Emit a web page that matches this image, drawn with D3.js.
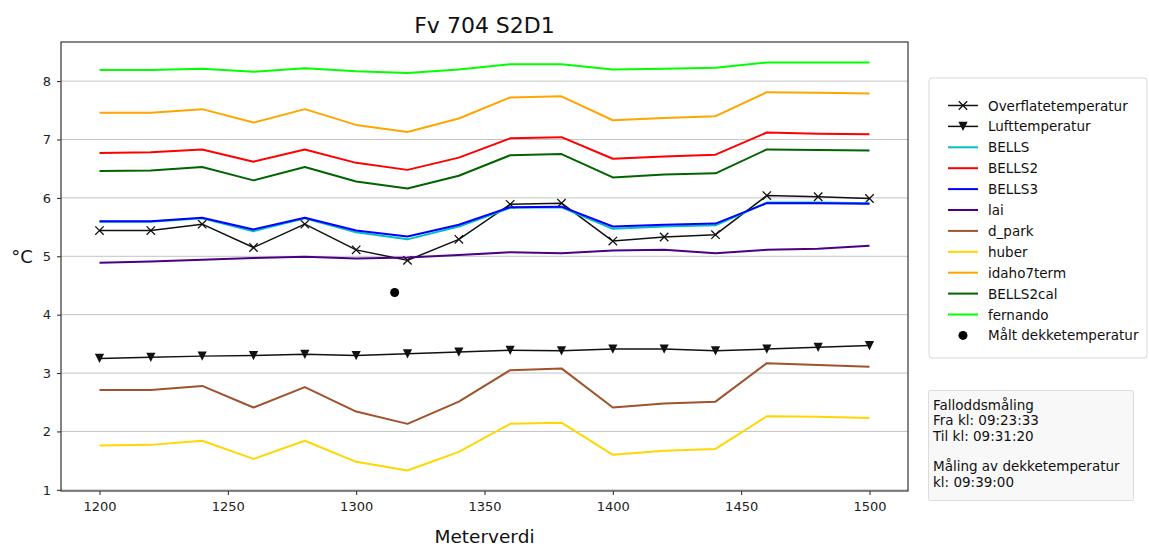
<!DOCTYPE html>
<html><head><meta charset="utf-8">
<script src="https://cdn.jsdelivr.net/npm/d3@7"></script>
<style>body{margin:0;background:#fff}svg{display:block}text{font-family:"DejaVu Sans",sans-serif}</style>
</head><body>
<svg id="chart" width="1149" height="547"></svg>
<script>
// ---- data ----
const meterverdi = [1200,1220,1240,1260,1280,1300,1320,1340,1360,1380,1400,1420,1440,1460,1480,1500];
const overflatetemperatur = [5.44,5.44,5.55,5.15,5.55,5.11,4.93,5.29,5.89,5.91,5.26,5.33,5.37,6.04,6.02,5.99];
const lufttemperatur = [3.25,3.27,3.29,3.30,3.32,3.30,3.33,3.36,3.39,3.38,3.41,3.41,3.38,3.41,3.44,3.47];
const bells = [5.59,5.59,5.65,5.43,5.65,5.41,5.29,5.51,5.83,5.84,5.47,5.51,5.53,5.92,5.92,5.91];
const bells2 = [6.77,6.78,6.83,6.62,6.83,6.60,6.48,6.69,7.02,7.04,6.67,6.71,6.74,7.12,7.10,7.09];
const bells3 = [5.60,5.60,5.66,5.46,5.66,5.44,5.34,5.54,5.84,5.85,5.51,5.54,5.56,5.91,5.91,5.90];
const lai = [4.89,4.91,4.94,4.97,4.99,4.96,4.98,5.02,5.07,5.05,5.10,5.11,5.05,5.11,5.13,5.18];
const dPark = [2.71,2.71,2.78,2.41,2.76,2.34,2.13,2.51,3.05,3.08,2.41,2.48,2.51,3.17,3.14,3.11];
const huber = [1.76,1.77,1.84,1.53,1.84,1.48,1.33,1.65,2.13,2.15,1.60,1.67,1.70,2.26,2.25,2.23];
const idaho7term = [7.46,7.46,7.52,7.29,7.52,7.25,7.13,7.36,7.72,7.74,7.33,7.37,7.40,7.81,7.80,7.79];
const bells2cal = [6.46,6.47,6.53,6.30,6.53,6.28,6.16,6.38,6.73,6.75,6.35,6.40,6.42,6.83,6.82,6.81];
const fernando = [8.19,8.19,8.21,8.16,8.22,8.17,8.14,8.20,8.29,8.29,8.20,8.21,8.23,8.32,8.32,8.32];
const maltDekke = [{x:1315, y:4.38}];
const xTicks = [1200,1250,1300,1350,1400,1450,1500];
const yTicks = [1,2,3,4,5,6,7,8];
const infoLines = ["Falloddsmåling","Fra kl: 09:23:33","Til kl: 09:31:20","","Måling av dekketemperatur","kl: 09:39:00"];

const series = [
  {name:"Overflatetemperatur", values:overflatetemperatur, color:"#111", width:1.5, marker:"x"},
  {name:"Lufttemperatur", values:lufttemperatur, color:"#111", width:1.5, marker:"tri"},
  {name:"BELLS", values:bells, color:"#00bfbf", width:2},
  {name:"BELLS2", values:bells2, color:"#ff0000", width:2},
  {name:"BELLS3", values:bells3, color:"#0000ff", width:2},
  {name:"lai", values:lai, color:"#4b0082", width:2},
  {name:"d_park", values:dPark, color:"#a0522d", width:2},
  {name:"huber", values:huber, color:"#ffd700", width:2},
  {name:"idaho7term", values:idaho7term, color:"#ffa500", width:2},
  {name:"BELLS2cal", values:bells2cal, color:"#006400", width:2},
  {name:"fernando", values:fernando, color:"#00ff00", width:2}
];

// ---- layout ----
const svg = d3.select("#chart");
const L=61, R=908, T=42, B=491;
const x = d3.scaleLinear().domain([1185,1515]).range([L,R]);
const y = d3.scaleLinear().domain([0.98,8.67]).range([B,T]);

// grid
svg.append("g").selectAll("line").data(yTicks).join("line")
  .attr("x1",L).attr("x2",R).attr("y1",d=>y(d)).attr("y2",d=>y(d))
  .attr("stroke","#c4c4c4").attr("stroke-width",1);

// axes
const xAxis = d3.axisBottom(x).tickValues(xTicks).tickSize(4).tickPadding(7).tickFormat(d3.format("d"));
const yAxis = d3.axisLeft(y).tickValues(yTicks).tickSize(4).tickPadding(6).tickFormat(d3.format("d"));
const gx = svg.append("g").attr("transform",`translate(0,${B})`).call(xAxis);
const gy = svg.append("g").attr("transform",`translate(${L},0)`).call(yAxis);
[gx,gy].forEach(g=>{
  g.select(".domain").remove();
  g.selectAll("line").attr("stroke","#222");
  g.selectAll("text").attr("fill","#222").style("font-size","13px").style("font-family","DejaVu Sans");
});

// lines
const line = d3.line().x((d,i)=>x(meterverdi[i])).y(d=>y(d));
svg.append("clipPath").attr("id","clip").append("rect").attr("x",L).attr("y",T).attr("width",R-L).attr("height",B-T);
const plot = svg.append("g").attr("clip-path","url(#clip)");
series.forEach(s=>{
  plot.append("path").datum(s.values).attr("d",line)
    .attr("fill","none").attr("stroke",s.color).attr("stroke-width",s.width)
    .attr("stroke-linejoin","round");
  if(s.marker==="x"){
    plot.append("g").selectAll("path").data(s.values).join("path")
      .attr("d",(d,i)=>{const cx=x(meterverdi[i]),cy=y(d),h=4.2;return `M${cx-h},${cy-h}L${cx+h},${cy+h}M${cx-h},${cy+h}L${cx+h},${cy-h}`;})
      .attr("stroke",s.color).attr("stroke-width",1.3).attr("fill","none");
  } else if(s.marker==="tri"){
    plot.append("g").selectAll("path").data(s.values).join("path")
      .attr("d",(d,i)=>{const cx=x(meterverdi[i]),cy=y(d),h=4.6;return `M${cx-h},${cy-h}L${cx+h},${cy-h}L${cx},${cy+h}Z`;})
      .attr("fill",s.color);
  }
});
plot.append("g").selectAll("circle").data(maltDekke).join("circle")
  .attr("cx",d=>x(d.x)).attr("cy",d=>y(d.y)).attr("r",4.5).attr("fill","#000");

// frame
svg.append("rect").attr("x",L).attr("y",T).attr("width",R-L).attr("height",B-T)
  .attr("fill","none").attr("stroke","#333").attr("stroke-width",1.2);

// titles
svg.append("text").attr("x",(L+R)/2).attr("y",33).attr("text-anchor","middle")
  .style("font-size","22px").attr("fill","#111").text("Fv 704 S2D1");
svg.append("text").attr("x",(L+R)/2).attr("y",543).attr("text-anchor","middle")
  .style("font-size","18.5px").attr("fill","#111").text("Meterverdi");
svg.append("text").attr("x",22).attr("y",263).attr("text-anchor","middle")
  .style("font-size","18px").attr("fill","#111").text("°C");

// legend
const lg = svg.append("g");
lg.append("rect").attr("x",929).attr("y",78).attr("width",218).attr("height",280).attr("rx",3)
  .attr("fill","#fff").attr("stroke","#d8d8d8").attr("stroke-width",1);
const legendItems = series.map(s=>({name:s.name,color:s.color,width:s.width,marker:s.marker||null}))
  .concat([{name:"Målt dekketemperatur",color:"#000",marker:"dot"}]);
const rowY = i => 105.5 + i*20.9;
legendItems.forEach((it,i)=>{
  const yy = rowY(i), x0=948, x1=978, cx=963;
  if(it.marker!=="dot"){
    lg.append("line").attr("x1",x0).attr("x2",x1).attr("y1",yy).attr("y2",yy)
      .attr("stroke",it.color).attr("stroke-width",it.width);
  }
  if(it.marker==="x"){
    const h=4.2;
    lg.append("path").attr("d",`M${cx-h},${yy-h}L${cx+h},${yy+h}M${cx-h},${yy+h}L${cx+h},${yy-h}`)
      .attr("stroke",it.color).attr("stroke-width",1.3);
  } else if(it.marker==="tri"){
    const h=4.6;
    lg.append("path").attr("d",`M${cx-h},${yy-h}L${cx+h},${yy-h}L${cx},${yy+h}Z`).attr("fill",it.color);
  } else if(it.marker==="dot"){
    lg.append("circle").attr("cx",cx).attr("cy",yy).attr("r",4.5).attr("fill","#000");
  }
  lg.append("text").attr("x",988).attr("y",yy+5).style("font-size","13.5px").attr("fill","#111").text(it.name);
});

// info box
const ib = svg.append("g");
ib.append("rect").attr("x",928.5).attr("y",390.5).attr("width",205).attr("height",110).attr("rx",2)
  .attr("fill","#f8f8f8").attr("stroke","#dcdcdc");
infoLines.forEach((t,i)=>{
  ib.append("text").attr("x",933).attr("y",410 + i*15.3).style("font-size","13.5px").attr("fill","#111").text(t);
});
</script>
</body></html>
